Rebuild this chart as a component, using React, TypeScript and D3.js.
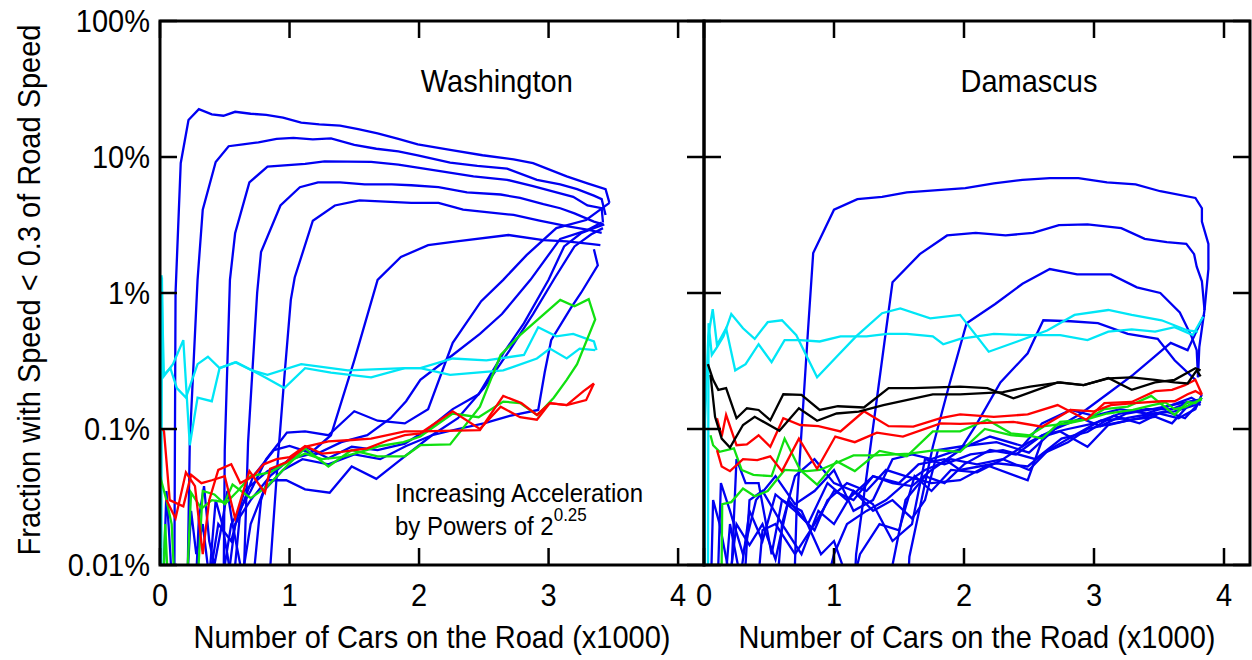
import * as d3 from "d3";
import type {ReactNode} from "react";

// x = cars on the road (thousands), y = percent of cars slower than 0.3 road speed
type Pt = [number, number];

const xTicks = [0, 1, 2, 3, 4];
const yTicks = [0.01, 0.1, 1, 10, 100];
const yTickLabels = ["0.01%", "0.1%", "1%", "10%", "100%"];

// ---------- Washington ----------
const washBlue: Pt[][] = [
  [[0.11,0.005],[0.12,1.0],[0.16,9.0],[0.22,18.7],[0.30,22.5],[0.40,20.6],[0.49,20.1],[0.58,21.5],[0.70,20.8],[0.82,20.4],[0.95,19.5],[1.09,17.9],[1.23,17.4],[1.39,17.0],[1.53,16.0],[1.68,14.9],[1.84,13.6],[1.99,12.4],[2.24,11.3],[2.49,10.3],[2.73,9.6],[2.88,9.0],[3.14,7.2],[3.30,6.4],[3.44,5.8],[3.47,4.6]],
  [[0.21,0.005],[0.23,0.08],[0.29,1.25],[0.33,4.1],[0.43,9.2],[0.53,12.0],[0.64,12.4],[0.76,12.8],[0.90,13.6],[1.03,13.8],[1.18,13.5],[1.32,13.7],[1.50,12.3],[1.67,11.5],[1.84,11.0],[1.99,10.3],[2.24,9.1],[2.45,8.6],[2.68,8.2],[2.91,6.8],[3.09,6.3],[3.22,5.8],[3.35,5.2],[3.41,4.9],[3.44,3.75]],
  [[0.49,0.005],[0.50,0.07],[0.54,1.25],[0.58,2.75],[0.69,6.5],[0.83,8.5],[1.12,8.9],[1.27,9.3],[1.63,9.2],[1.84,8.8],[2.15,7.9],[2.42,7.2],[2.68,6.8],[2.88,6.1],[3.19,5.1],[3.30,4.4],[3.41,4.2],[3.42,3.3]],
  [[0.64,0.005],[0.68,0.08],[0.75,1.0],[0.78,2.0],[0.93,4.4],[1.08,6.0],[1.22,6.5],[1.39,6.5],[1.58,6.3],[1.79,6.3],[1.94,6.2],[2.15,6.0],[2.37,5.5],[2.63,5.3],[2.78,5.0],[2.96,4.5],[3.09,4.2],[3.20,3.85],[3.35,3.35],[3.42,3.2]],
  [[0.83,0.005],[0.91,0.06],[0.96,0.24],[1.01,0.89],[1.04,1.3],[1.18,3.4],[1.35,4.4],[1.54,4.8],[1.74,4.7],[1.94,4.6],[2.15,4.6],[2.34,4.1],[2.73,3.75],[2.93,3.4],[3.14,3.1],[3.32,2.9],[3.41,2.77]],
  [[0.5,0.005],[0.58,0.02],[0.7,0.03],[0.85,0.045],[1.0,0.06],[1.15,0.065],[1.32,0.09],[1.5,0.32],[1.68,1.25],[1.86,1.84],[2.07,2.25],[2.29,2.4],[2.69,2.67],[2.96,2.45],[3.14,2.4],[3.32,2.3],[3.40,2.25]],
  [[0.6,0.005],[0.7,0.02],[0.8,0.035],[0.95,0.05],[1.1,0.06],[1.3,0.055],[1.5,0.065],[1.7,0.06],[1.9,0.075],[2.1,0.09],[2.3,0.1],[2.5,0.11],[2.7,0.125],[2.92,0.138],[2.97,0.26],[3.02,0.45],[3.17,0.77],[3.25,1.0],[3.38,1.6],[3.35,2.1]],
  [[0.45,0.005],[0.55,0.02],[0.7,0.035],[0.82,0.06],[0.98,0.094],[1.12,0.096],[1.30,0.09],[1.50,0.135],[1.68,0.115],[1.89,0.11],[2.07,0.14],[2.26,0.43],[2.48,0.87],[2.65,1.25],[2.83,1.9],[3.06,3.0],[3.29,3.44],[3.47,4.6]],
  [[0.35,0.005],[0.45,0.02],[0.55,0.015],[0.65,0.035],[0.83,0.049],[0.975,0.057],[1.12,0.074],[1.30,0.061],[1.48,0.074],[1.68,0.07],[1.89,0.078],[2.07,0.1],[2.26,0.14],[2.46,0.18],[2.65,0.36],[2.81,0.6],[3.0,1.25],[3.12,2.2],[3.25,2.75],[3.35,3.0],[3.43,3.2]],
  [[0.55,0.005],[0.62,0.025],[0.72,0.045],[0.88,0.07],[1.0,0.075],[1.2,0.065],[1.4,0.08],[1.6,0.09],[1.78,0.12],[1.9,0.16],[2.01,0.23],[2.26,0.35],[2.47,0.5],[2.64,0.7],[2.86,1.25],[3.09,2.5],[3.30,2.9],[3.41,3.3]],
  [[0.7,0.005],[0.78,0.03],[0.83,0.042],[0.975,0.042],[1.12,0.036],[1.31,0.034],[1.48,0.053],[1.67,0.043],[1.89,0.063],[2.1,0.09],[2.3,0.12],[2.5,0.2],[2.7,0.38],[2.88,0.7],[3.05,1.3],[3.2,2.2],[3.33,2.7],[3.42,3.0]],
  [[0.02,0.005],[0.05,0.035],[0.08,0.012],[0.1,0.005]],
  [[0.2,0.005],[0.24,0.025],[0.28,0.012],[0.33,0.02],[0.38,0.008],[0.43,0.03],[0.48,0.02],[0.52,0.012],[0.58,0.005]],
  [[0.27,0.005],[0.3,0.022],[0.34,0.038],[0.38,0.015],[0.42,0.01],[0.47,0.018],[0.52,0.035],[0.56,0.02],[0.62,0.01],[0.66,0.005]],
];

const washCyan: Pt[][] = [
  [[0.005,0.005],[0.015,1.3],[0.023,0.24],[0.1,0.3],[0.18,0.45],[0.23,0.076],[0.29,0.17],[0.40,0.16],[0.46,0.28],[0.59,0.31],[0.81,0.24],[0.96,0.2],[1.12,0.28],[1.32,0.26],[1.63,0.24],[1.89,0.28],[2.01,0.28],[2.24,0.25],[2.65,0.27],[2.91,0.33],[3.01,0.39],[3.14,0.33],[3.24,0.39],[3.36,0.38]],
  [[0.01,0.005],[0.012,1.35],[0.02,0.6],[0.03,0.25],[0.08,0.28],[0.13,0.2],[0.2,0.17],[0.29,0.3],[0.37,0.34],[0.46,0.28],[0.58,0.31],[0.71,0.27],[0.83,0.25],[1.09,0.30],[1.45,0.27],[1.89,0.28],[2.01,0.28],[2.26,0.33],[2.52,0.32],[2.81,0.35],[2.92,0.56],[3.06,0.48],[3.19,0.5],[3.35,0.44],[3.37,0.38]],
];

const washGreen: Pt[][] = [
  [[0.0,0.045],[0.05,0.03],[0.09,0.02],[0.12,0.005],[0.2,0.005],[0.24,0.034],[0.32,0.026],[0.40,0.030],[0.50,0.029],[0.56,0.039],[0.70,0.031],[0.83,0.038],[0.975,0.053],[1.12,0.072],[1.30,0.053],[1.48,0.07],[1.68,0.063],[1.89,0.063],[2.01,0.076],[2.24,0.077],[2.47,0.146],[2.63,0.35],[2.78,0.49],[3.09,0.89],[3.20,0.8],[3.31,0.9],[3.36,0.64],[3.22,0.30],[3.14,0.23],[3.04,0.17],[2.91,0.125]],
  [[0.02,0.005],[0.04,0.02],[0.07,0.005],[0.28,0.005],[0.33,0.035],[0.42,0.033],[0.5,0.028],[0.6,0.035],[0.7,0.045],[0.85,0.048],[1.0,0.058],[1.12,0.066],[1.25,0.06],[1.4,0.062],[1.55,0.068],[1.7,0.075],[1.88,0.08],[2.01,0.088],[2.26,0.13],[2.46,0.122],[2.65,0.159],[2.78,0.155],[2.91,0.127]],
];

const washRed: Pt[][] = [
  [[0.02,0.1],[0.031,0.096],[0.075,0.03],[0.18,0.027],[0.24,0.046],[0.32,0.04],[0.40,0.042],[0.50,0.045],[0.58,0.022],[0.69,0.049],[0.81,0.034],[0.85,0.051],[0.975,0.057],[1.12,0.074],[1.30,0.081],[1.48,0.083],[1.63,0.085],[1.89,0.096],[2.01,0.096],[2.47,0.098],[2.65,0.175],[2.79,0.155],[2.91,0.127],[3.01,0.155],[3.14,0.15],[3.29,0.163],[3.35,0.216]],
  [[0.05,0.03],[0.12,0.022],[0.2,0.048],[0.27,0.038],[0.33,0.012],[0.38,0.03],[0.45,0.05],[0.55,0.055],[0.62,0.04],[0.72,0.045],[0.8,0.055],[0.9,0.06],[1.0,0.062],[1.12,0.075],[1.25,0.066],[1.4,0.068],[1.6,0.072],[1.75,0.082],[1.89,0.09],[2.01,0.093],[2.26,0.135],[2.47,0.1],[2.63,0.146],[2.78,0.122],[2.91,0.117],[3.01,0.155],[3.14,0.15],[3.27,0.19],[3.35,0.216]],
];

// ---------- Damascus ----------
const damBlue: Pt[][] = [
  [[0.69,0.005],[0.713,0.027],[0.80,0.53],[0.84,1.97],[1.0,4.1],[1.18,4.9],[1.37,5.1],[1.56,5.5],[2.01,5.9],[2.23,6.4],[2.45,6.8],[2.66,7.0],[2.88,7.0],[3.10,6.5],[3.32,6.3],[3.51,5.6],[3.78,5.0],[3.83,4.2],[3.83,3.35],[3.88,2.3],[3.88,1.5],[3.85,0.75],[3.81,0.4],[3.80,0.24]],
  [[1.15,0.005],[1.17,0.012],[1.40,0.53],[1.45,1.2],[1.66,1.93],[1.87,2.65],[2.09,2.77],[2.32,2.65],[2.53,2.77],[2.73,3.16],[2.95,3.2],[3.21,3.0],[3.39,2.5],[3.56,2.37],[3.71,2.3],[3.77,1.93],[3.79,1.56],[3.83,1.22],[3.85,0.75]],
  [[1.56,0.005],[1.58,0.0115],[1.76,0.074],[1.88,0.2],[2.02,0.6],[2.24,0.83],[2.45,1.17],[2.66,1.5],[2.87,1.37],[3.13,1.37],[3.33,1.1],[3.51,1.0],[3.66,0.72],[3.75,0.48],[3.79,0.38],[3.80,0.24]],
  [[0.4,0.005],[0.45,0.018],[0.55,0.02],[0.7,0.012],[0.85,0.02],[1.0,0.035],[1.15,0.03],[1.3,0.045],[1.45,0.04],[1.6,0.038],[1.75,0.05],[1.97,0.07],[2.1,0.11],[2.28,0.22],[2.49,0.36],[2.61,0.63],[2.82,0.62],[3.03,0.6],[3.26,0.5],[3.49,0.46],[3.62,0.32],[3.78,0.23]],
  [[0.9,0.005],[1.0,0.012],[1.1,0.02],[1.25,0.025],[1.4,0.03],[1.55,0.04],[1.7,0.05],[1.9,0.06],[2.1,0.055],[2.3,0.06],[2.5,0.08],[2.7,0.1],[2.9,0.13],[3.1,0.18],[3.3,0.25],[3.45,0.33],[3.59,0.43],[3.72,0.38],[3.84,0.67],[3.85,0.69]],
  [[0.1,0.005],[0.13,0.04],[0.2,0.025],[0.3,0.012],[0.4,0.03],[0.55,0.045],[0.7,0.028],[0.85,0.035],[1.0,0.05],[1.15,0.025],[1.3,0.03],[1.45,0.06],[1.6,0.065],[1.75,0.06],[1.95,0.07],[2.2,0.088],[2.45,0.075],[2.6,0.11],[2.82,0.138],[3.0,0.125],[3.2,0.14],[3.4,0.13],[3.6,0.15],[3.75,0.16],[3.82,0.15]],
  [[0.05,0.005],[0.07,0.03],[0.12,0.02],[0.2,0.008],[0.25,0.02],[0.35,0.014],[0.45,0.02],[0.55,0.011],[0.65,0.03],[0.8,0.02],[0.95,0.04],[1.1,0.03],[1.3,0.045],[1.5,0.04],[1.65,0.055],[1.85,0.06],[1.97,0.05],[2.25,0.056],[2.49,0.053],[2.61,0.066],[2.8,0.08],[2.95,0.1],[3.15,0.11],[3.35,0.12],[3.55,0.135],[3.7,0.12],[3.82,0.16]],
  [[0.15,0.005],[0.2,0.02],[0.28,0.008],[0.35,0.025],[0.45,0.015],[0.55,0.033],[0.7,0.025],[0.85,0.018],[0.95,0.03],[1.1,0.04],[1.25,0.035],[1.4,0.05],[1.55,0.045],[1.75,0.04],[1.97,0.042],[2.18,0.054],[2.49,0.042],[2.61,0.088],[2.74,0.096],[2.95,0.074],[3.11,0.107],[3.29,0.117],[3.47,0.123],[3.6,0.11],[3.72,0.147],[3.81,0.163]],
  [[0.3,0.005],[0.35,0.03],[0.45,0.035],[0.6,0.02],[0.75,0.012],[0.88,0.025],[1.0,0.02],[1.15,0.035],[1.3,0.028],[1.45,0.015],[1.6,0.02],[1.7,0.06],[1.85,0.055],[2.05,0.065],[2.3,0.07],[2.55,0.06],[2.75,0.085],[2.95,0.095],[3.15,0.125],[3.35,0.11],[3.5,0.13],[3.65,0.12],[3.78,0.14],[3.83,0.18]],
  [[0.55,0.005],[0.6,0.02],[0.7,0.045],[0.85,0.06],[1.0,0.04],[1.15,0.035],[1.3,0.025],[1.45,0.03],[1.6,0.022],[1.7,0.03],[1.8,0.07],[2.0,0.075],[2.25,0.08],[2.5,0.067],[2.7,0.1],[2.9,0.12],[3.05,0.105],[3.25,0.13],[3.45,0.14],[3.6,0.15],[3.75,0.17],[3.82,0.155]],
  [[0.2,0.005],[0.25,0.06],[0.32,0.04],[0.42,0.04],[0.52,0.012],[0.6,0.03],[0.75,0.025],[0.9,0.012],[1.0,0.015],[1.1,0.008],[1.2,0.005]],
  [[1.3,0.005],[1.45,0.01],[1.55,0.03],[1.7,0.045],[1.85,0.04],[2.0,0.055],[2.2,0.07],[2.4,0.065],[2.6,0.09],[2.8,0.1],[3.0,0.11],[3.2,0.13],[3.4,0.14],[3.6,0.14],[3.75,0.16],[3.82,0.165]],
  [[1.1,0.005],[1.2,0.012],[1.35,0.02],[1.5,0.018],[1.62,0.045],[1.75,0.035],[1.9,0.05],[2.1,0.048],[2.3,0.06],[2.5,0.05],[2.65,0.07],[2.85,0.09],[3.05,0.115],[3.25,0.12],[3.45,0.13],[3.62,0.135],[3.78,0.15],[3.83,0.17]],
];

const damCyan: Pt[][] = [
  [[0.005,0.005],[0.008,0.117],[0.033,0.48],[0.067,0.76],[0.1,0.415],[0.17,0.55],[0.24,0.27],[0.32,0.3],[0.42,0.42],[0.52,0.31],[0.62,0.45],[0.74,0.45],[0.89,0.44],[1.05,0.48],[1.25,0.48],[1.41,0.5],[1.56,0.5],[1.76,0.48],[1.84,0.42],[1.97,0.46],[2.23,0.5],[2.49,0.49],[2.74,0.49],[2.95,0.45],[3.11,0.52],[3.29,0.54],[3.47,0.52],[3.62,0.56],[3.76,0.49],[3.84,0.67]],
  [[0.03,0.005],[0.035,0.6],[0.06,0.35],[0.1,0.4],[0.15,0.48],[0.21,0.70],[0.3,0.55],[0.39,0.46],[0.49,0.61],[0.6,0.63],[0.71,0.49],[0.87,0.24],[1.02,0.34],[1.17,0.48],[1.37,0.71],[1.51,0.77],[1.74,0.65],[1.97,0.69],[2.19,0.37],[2.41,0.44],[2.64,0.53],[2.85,0.69],[3.11,0.75],[3.29,0.69],[3.52,0.63],[3.72,0.53],[3.80,0.52]],
];

const damGreen: Pt[][] = [
  [[0.05,0.09],[0.07,0.076],[0.12,0.068],[0.23,0.072],[0.29,0.05],[0.38,0.046],[0.52,0.045],[0.62,0.085],[0.74,0.05],[0.87,0.039],[1.02,0.058],[1.16,0.049],[1.35,0.069],[1.56,0.063],[1.76,0.096],[1.97,0.096],[2.18,0.117],[2.36,0.093],[2.49,0.09],[2.6,0.085],[2.74,0.113],[2.94,0.117],[3.08,0.14],[3.26,0.146],[3.44,0.175],[3.62,0.127],[3.72,0.158],[3.78,0.155],[3.83,0.17]],
  [[0.136,0.005],[0.136,0.0103],[0.14,0.028],[0.21,0.029],[0.3,0.0365],[0.39,0.032],[0.49,0.035],[0.62,0.05],[0.79,0.049],[0.89,0.05],[1.03,0.057],[1.15,0.064],[1.32,0.064],[1.58,0.066],[1.78,0.07],[1.97,0.068],[2.16,0.1],[2.36,0.09],[2.49,0.088],[2.62,0.105],[2.8,0.11],[2.95,0.118],[3.1,0.13],[3.3,0.138],[3.45,0.15],[3.55,0.157],[3.62,0.14],[3.7,0.145],[3.79,0.16],[3.83,0.165]],
];

const damRed: Pt[][] = [
  [[0.1,0.12],[0.136,0.088],[0.17,0.127],[0.25,0.076],[0.33,0.077],[0.42,0.09],[0.51,0.074],[0.61,0.12],[0.74,0.107],[0.88,0.105],[1.05,0.096],[1.23,0.135],[1.42,0.105],[1.61,0.104],[1.82,0.12],[1.97,0.128],[2.23,0.123],[2.49,0.128],[2.72,0.15],[2.94,0.117],[3.08,0.155],[3.29,0.158],[3.47,0.19],[3.6,0.194],[3.7,0.21],[3.78,0.23],[3.83,0.18]],
  [[0.1,0.07],[0.136,0.053],[0.2,0.049],[0.3,0.06],[0.41,0.059],[0.51,0.063],[0.6,0.049],[0.73,0.085],[0.87,0.051],[1.01,0.088],[1.16,0.08],[1.33,0.094],[1.53,0.088],[1.82,0.11],[1.97,0.109],[2.38,0.113],[2.6,0.104],[2.82,0.138],[3.0,0.135],[3.13,0.15],[3.31,0.155],[3.52,0.16],[3.62,0.16],[3.72,0.18],[3.78,0.19],[3.83,0.178]],
];

const damBlack: Pt[][] = [
  [[0.03,0.3],[0.07,0.23],[0.11,0.194],[0.17,0.2],[0.25,0.12],[0.33,0.142],[0.42,0.138],[0.51,0.116],[0.61,0.18],[0.75,0.178],[0.89,0.138],[1.03,0.147],[1.23,0.144],[1.42,0.2],[1.61,0.2],[1.97,0.205],[2.18,0.2],[2.38,0.168],[2.72,0.22],[2.92,0.21],[3.11,0.237],[3.29,0.194],[3.47,0.22],[3.62,0.23],[3.78,0.28],[3.82,0.27]],
  [[0.05,0.25],[0.085,0.123],[0.136,0.085],[0.2,0.073],[0.3,0.107],[0.39,0.123],[0.58,0.097],[0.73,0.142],[0.87,0.115],[1.02,0.13],[1.19,0.134],[1.38,0.15],[1.76,0.18],[1.97,0.18],[2.3,0.187],[2.51,0.205],[2.74,0.22],[2.92,0.21],[3.11,0.236],[3.29,0.24],[3.47,0.23],[3.62,0.22],[3.72,0.216],[3.79,0.27],[3.82,0.244]],
];

const FONT = "'Liberation Sans', Arial, Helvetica, sans-serif";
const COLORS = {blue: "#0000f2", cyan: "#00e6f6", green: "#10e010", red: "#ff0000", black: "#000000"};

const TOP = 21;
const BOTTOM = 565;
const yScale = d3.scaleLog().domain([0.01, 100]).range([BOTTOM, TOP]);

// text slightly stretched vertically, like the original's narrow Helvetica
function Txt({x, y, size, anchor = "start", rotate = 0, children}: {
  x: number; y: number; size: number; anchor?: string; rotate?: number; children: ReactNode;
}) {
  return (
    <text
      transform={`translate(${x},${y}) rotate(${rotate}) scale(1,1.1)`}
      textAnchor={anchor}
      fontSize={size}
      fontFamily={FONT}
      fill="#000"
    >
      {children}
    </text>
  );
}

interface PanelProps {
  id: string;
  x0: number;
  x1: number;
  title: string;
  titleAt: number;
  groups: {color: string; lines: Pt[][]}[];
}

function Panel({id, x0, x1, title, titleAt, groups}: PanelProps) {
  const x = d3.scaleLinear().domain([0, 4.2]).range([x0, x1]);
  const line = d3
    .line<Pt>()
    .x((d) => x(d[0]))
    .y((d) => yScale(d[1]));
  const tickLen = 17;

  return (
    <g>
      <defs>
        <clipPath id={id}>
          <rect x={x0} y={TOP} width={x1 - x0} height={BOTTOM - TOP} />
        </clipPath>
      </defs>
      <g clipPath={`url(#${id})`}>
        {groups.map((g, gi) =>
          g.lines.map((pts, i) => (
            <path
              key={`${gi}-${i}`}
              d={line(pts) || ""}
              fill="none"
              stroke={g.color}
              strokeWidth={2.3}
              strokeLinejoin="miter"
            />
          )),
        )}
      </g>
      {xTicks.map((t) => (
        <g key={`xt${t}`} stroke="#000" strokeWidth={2.5}>
          <line x1={x(t)} x2={x(t)} y1={BOTTOM} y2={BOTTOM - tickLen} />
          <line x1={x(t)} x2={x(t)} y1={TOP} y2={TOP + tickLen} />
        </g>
      ))}
      {yTicks.map((t) => (
        <g key={`yt${t}`} stroke="#000" strokeWidth={2.5}>
          <line x1={x0} x2={x0 + tickLen} y1={yScale(t)} y2={yScale(t)} />
          <line x1={x1} x2={x1 - tickLen} y1={yScale(t)} y2={yScale(t)} />
        </g>
      ))}
      <rect x={x0} y={TOP} width={x1 - x0} height={BOTTOM - TOP} fill="none" stroke="#000" strokeWidth={3} />
      {xTicks.map((t) => (
        <Txt key={`xl${t}`} x={x(t)} y={606} size={29} anchor="middle">
          {t}
        </Txt>
      ))}
      <Txt x={(x0 + x1) / 2} y={648} size={29} anchor="middle">
        Number of Cars on the Road (x1000)
      </Txt>
      <Txt x={x(titleAt)} y={92} size={29} anchor="middle">
        {title}
      </Txt>
    </g>
  );
}

export default function App() {
  const wash = [
    {color: COLORS.blue, lines: washBlue},
    {color: COLORS.cyan, lines: washCyan},
    {color: COLORS.green, lines: washGreen},
    {color: COLORS.red, lines: washRed},
  ];
  const dam = [
    {color: COLORS.blue, lines: damBlue},
    {color: COLORS.cyan, lines: damCyan},
    {color: COLORS.green, lines: damGreen},
    {color: COLORS.red, lines: damRed},
    {color: COLORS.black, lines: damBlack},
  ];
  return (
    <div style={{position: "absolute", left: 0, top: 0}}>
      <svg width={1252} height={660} style={{display: "block", background: "#fff"}}>
        <rect width={1252} height={660} fill="#fff" />
        <Panel id="clipWash" x0={160} x1={704} title="Washington" titleAt={2.6} groups={wash} />
        <Panel id="clipDam" x0={704} x1={1250} title="Damascus" titleAt={2.5} groups={dam} />
        {yTicks.map((t, i) => (
          <Txt key={t} x={150} y={yScale(t) + 11} size={29} anchor="end">
            {yTickLabels[i]}
          </Txt>
        ))}
        <Txt x={40} y={290} size={29} anchor="middle" rotate={-90}>
          Fraction with Speed &lt; 0.3 of Road Speed
        </Txt>
        <Txt x={395} y={502} size={24}>
          Increasing Acceleration
        </Txt>
        <Txt x={395} y={535} size={24}>
          by Powers of 2
          <tspan dy={-13} fontSize={17}>
            0.25
          </tspan>
        </Txt>
      </svg>
    </div>
  );
}
